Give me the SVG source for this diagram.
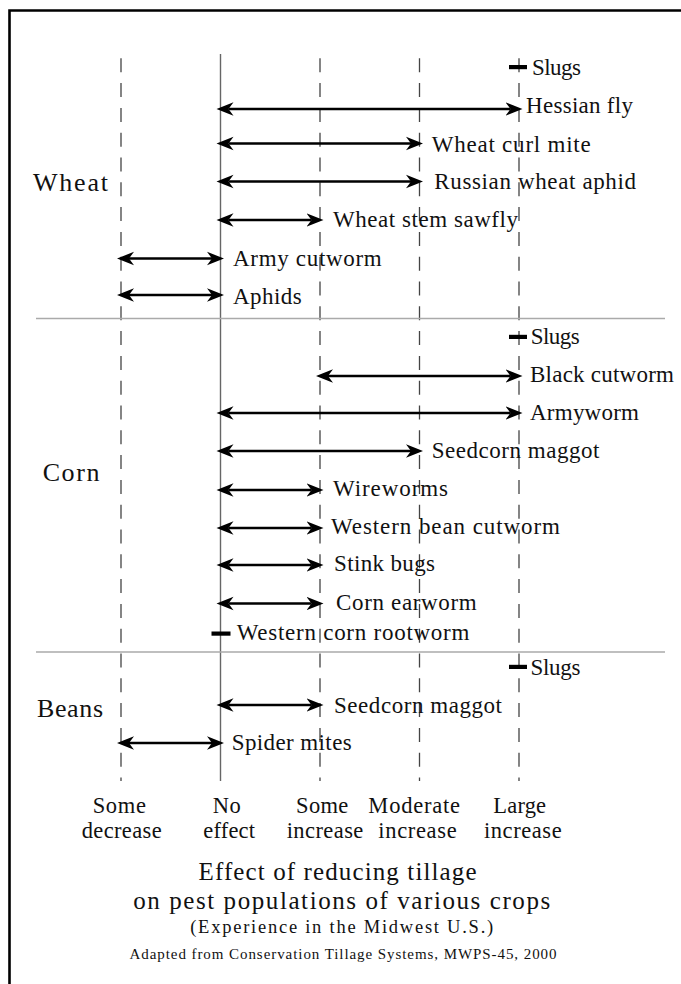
<svg xmlns="http://www.w3.org/2000/svg" width="681" height="984" viewBox="0 0 681 984">
<style>
text{font-family:"Liberation Serif","Times New Roman",serif;fill:#111}
.pest{font-size:23px}
.crop{font-size:26px}
.axis{font-size:22.5px;text-anchor:middle}
.title{font-size:25px;text-anchor:middle}
.sub{font-size:18.5px;text-anchor:middle}
.credit{font-size:15px;text-anchor:middle}
.dash{stroke:#444;stroke-width:1.3;stroke-dasharray:14 10.8;fill:none}
.solid{stroke:#666;stroke-width:1.4;fill:none}
.sep{stroke:#aaa;stroke-width:1.3;fill:none}
.arr{stroke:#000;stroke-width:2.5;fill:none;marker-start:url(#ah);marker-end:url(#ah)}
.tick{fill:#000}
</style>
<defs>
<marker id="ah" markerUnits="userSpaceOnUse" markerWidth="20" markerHeight="16" viewBox="0 -8 20 16" refX="5" refY="0" orient="auto-start-reverse">
<path d="M17,0 L0,-6.7 L5,0 L0,6.7 Z" fill="#000"/>
</marker>
</defs>
<rect width="681" height="984" fill="#fff"/>
<path d="M9.5,984 V10.5 H681" fill="none" stroke="#000" stroke-width="2.6"/>

<g id="grid">
<line class="dash" x1="121" y1="58.3" x2="121" y2="781"/>
<line class="solid" x1="220.5" y1="54" x2="220.5" y2="781"/>
<line class="dash" x1="320" y1="58.3" x2="320" y2="781"/>
<line class="dash" x1="419.5" y1="58.3" x2="419.5" y2="781"/>
<line class="dash" x1="519" y1="58.3" x2="519" y2="781"/>
<line class="sep" x1="36" y1="318.5" x2="665" y2="318.5"/>
<line class="sep" x1="36" y1="652" x2="665" y2="652"/>
</g>

<g id="connectors">
<line class="arr" x1="228.5" y1="109" x2="510.5" y2="109"/>
<line class="arr" x1="228.5" y1="143.5" x2="411" y2="143.5"/>
<line class="arr" x1="228.5" y1="181.5" x2="411" y2="181.5"/>
<line class="arr" x1="228.5" y1="220" x2="311.5" y2="220"/>
<line class="arr" x1="129" y1="258.5" x2="212" y2="258.5"/>
<line class="arr" x1="129" y1="295" x2="212" y2="295"/>
<line class="arr" x1="328" y1="376" x2="510.5" y2="376"/>
<line class="arr" x1="228.5" y1="413" x2="510.5" y2="413"/>
<line class="arr" x1="228.5" y1="451" x2="411" y2="451"/>
<line class="arr" x1="228.5" y1="490" x2="311.5" y2="490"/>
<line class="arr" x1="228.5" y1="528" x2="311.5" y2="528"/>
<line class="arr" x1="228.5" y1="565" x2="311.5" y2="565"/>
<line class="arr" x1="228.5" y1="603.5" x2="311.5" y2="603.5"/>
<line class="arr" x1="228.5" y1="705" x2="311.5" y2="705"/>
<line class="arr" x1="129" y1="743" x2="212" y2="743"/>
<rect class="tick" x="509" y="65" width="18" height="4.2"/>
<rect class="tick" x="509" y="334.8" width="18" height="4.2"/>
<rect class="tick" x="509" y="664.8" width="18" height="4.2"/>
<rect class="tick" x="211.5" y="631.5" width="19" height="4.2"/>
</g>

<g id="crop-wheat"><text class="crop" x="33" y="191" textLength="75" lengthAdjust="spacing">Wheat</text></g>
<g id="crop-corn"><text class="crop" x="42.7" y="481" textLength="56.7" lengthAdjust="spacing">Corn</text></g>
<g id="crop-beans"><text class="crop" x="37" y="716.7" textLength="66" lengthAdjust="spacing">Beans</text></g>

<g id="wheat-slugs"><text class="pest" x="532" y="75" textLength="49" lengthAdjust="spacing">Slugs</text></g>
<g id="wheat-hessian"><text class="pest" x="526" y="113" textLength="107" lengthAdjust="spacing">Hessian fly</text></g>
<g id="wheat-curl"><text class="pest" x="431.7" y="151.7" textLength="159" lengthAdjust="spacing">Wheat curl mite</text></g>
<g id="wheat-russian"><text class="pest" x="434.3" y="188.5" textLength="201.7" lengthAdjust="spacing">Russian wheat aphid</text></g>
<g id="wheat-sawfly"><text class="pest" x="333" y="226.7" textLength="185" lengthAdjust="spacing">Wheat stem sawfly</text></g>
<g id="wheat-army"><text class="pest" x="233" y="265.7" textLength="148.7" lengthAdjust="spacing">Army cutworm</text></g>
<g id="wheat-aphids"><text class="pest" x="233" y="303.5" textLength="68.7" lengthAdjust="spacing">Aphids</text></g>

<g id="corn-slugs"><text class="pest" x="530.7" y="344.3" textLength="49" lengthAdjust="spacing">Slugs</text></g>
<g id="corn-black"><text class="pest" x="530" y="381.7" textLength="144" lengthAdjust="spacing">Black cutworm</text></g>
<g id="corn-armyworm"><text class="pest" x="530" y="420" textLength="109" lengthAdjust="spacing">Armyworm</text></g>
<g id="corn-seedcorn"><text class="pest" x="431.7" y="457.7" textLength="167.7" lengthAdjust="spacing">Seedcorn maggot</text></g>
<g id="corn-wireworms"><text class="pest" x="333" y="496" textLength="115" lengthAdjust="spacing">Wireworms</text></g>
<g id="corn-wbc"><text class="pest" x="331" y="534.3" textLength="229" lengthAdjust="spacing">Western bean cutworm</text></g>
<g id="corn-stink"><text class="pest" x="334" y="570.5" textLength="101" lengthAdjust="spacing">Stink bugs</text></g>
<g id="corn-earworm"><text class="pest" x="336" y="610" textLength="140.7" lengthAdjust="spacing">Corn earworm</text></g>
<g id="corn-wcr"><text class="pest" x="236.7" y="640" textLength="232.7" lengthAdjust="spacing">Western corn rootworm</text></g>

<g id="beans-slugs"><text class="pest" x="530.4" y="675" textLength="50" lengthAdjust="spacing">Slugs</text></g>
<g id="beans-seedcorn"><text class="pest" x="334" y="712.7" textLength="168" lengthAdjust="spacing">Seedcorn maggot</text></g>
<g id="beans-spider"><text class="pest" x="231.7" y="750" textLength="120" lengthAdjust="spacing">Spider mites</text></g>

<g id="axis-labels">
<text class="axis" x="119.3" y="813.3" textLength="53.3" lengthAdjust="spacing">Some</text>
<text class="axis" x="121.7" y="838.3" textLength="80" lengthAdjust="spacing">decrease</text>
<text class="axis" x="226.7" y="813.3" textLength="28" lengthAdjust="spacing">No</text>
<text class="axis" x="229.2" y="838.3" textLength="51.7" lengthAdjust="spacing">effect</text>
<text class="axis" x="322.2" y="813.3" textLength="52.3" lengthAdjust="spacing">Some</text>
<text class="axis" x="325" y="838.3" textLength="76.7" lengthAdjust="spacing">increase</text>
<text class="axis" x="414.2" y="813.3" textLength="91.7" lengthAdjust="spacing">Moderate</text>
<text class="axis" x="417.5" y="838.3" textLength="78.3" lengthAdjust="spacing">increase</text>
<text class="axis" x="519.7" y="813.3" textLength="52.7" lengthAdjust="spacing">Large</text>
<text class="axis" x="522.8" y="838.3" textLength="77.7" lengthAdjust="spacing">increase</text>
</g>

<g id="caption">
<text class="title" x="337.5" y="880" textLength="278" lengthAdjust="spacing">Effect of reducing tillage</text>
<text class="title" x="341.7" y="908.5" textLength="417" lengthAdjust="spacing">on pest populations of various crops</text>
<text class="sub" x="341.7" y="933" textLength="303" lengthAdjust="spacing">(Experience in the Midwest U.S.)</text>
<text class="credit" x="343" y="958.5" textLength="427" lengthAdjust="spacing">Adapted from Conservation Tillage Systems, MWPS-45, 2000</text>
</g>
</svg>
